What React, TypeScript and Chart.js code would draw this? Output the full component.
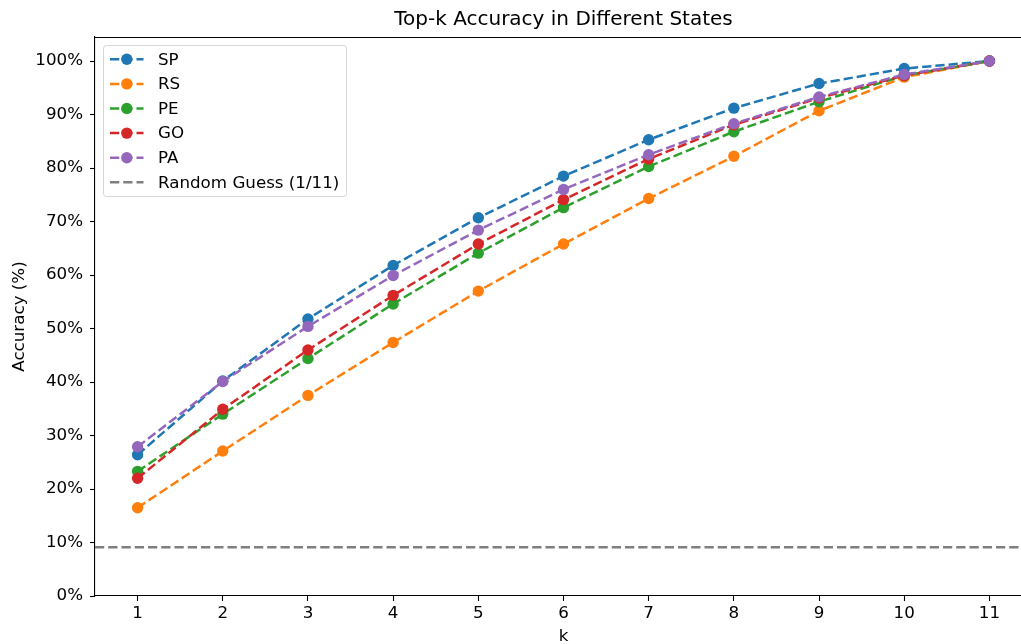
import { useEffect, useRef } from 'react';
import { Chart, registerables } from 'chart.js';

Chart.register(...registerables);

const kValues = [1, 2, 3, 4, 5, 6, 7, 8, 9, 10, 11];
const spValues = [26.4, 40.2, 51.8, 61.8, 70.7, 78.5, 85.3, 91.2, 95.8, 98.6, 100];
const rsValues = [16.5, 27.1, 37.5, 47.4, 57.0, 65.8, 74.3, 82.2, 90.7, 97.0, 100];
const peValues = [23.3, 34.0, 44.4, 54.6, 64.1, 72.6, 80.3, 86.8, 92.4, 97.3, 100];
const goValues = [22.0, 34.9, 46.0, 56.2, 65.8, 74.1, 81.7, 88.1, 93.1, 97.3, 100];
const paValues = [27.9, 40.1, 50.4, 59.9, 68.4, 76.0, 82.5, 88.3, 93.3, 97.5, 100];
const randomGuess = 100 / 11;

const seriesNames = ['SP', 'RS', 'PE', 'GO', 'PA'];
const seriesColors = ['#1f77b4', '#ff7f0e', '#2ca02c', '#d62728', '#9467bd'];
const randomLabel = 'Random Guess (1/11)';
const randomColor = '#7f7f7f';
const yTicks = [0, 10, 20, 30, 40, 50, 60, 70, 80, 90, 100];
const titleText = 'Top-k Accuracy in Different States';

const FONT = '"DejaVu Sans", sans-serif';
const DASH = [9.25, 4];
const LW = 2.5;
const PR = 5.7;

export default function App() {
  const ref = useRef<HTMLCanvasElement>(null);

  useEffect(() => {
    const canvas = ref.current;
    if (!canvas) return;
    const allSeries = [spValues, rsValues, peValues, goValues, paValues];

    const datasets: any[] = allSeries.map((vals, i) => ({
      label: seriesNames[i],
      data: kValues.map((k, j) => ({ x: k, y: vals[j] })),
      borderColor: seriesColors[i],
      backgroundColor: seriesColors[i],
      pointBackgroundColor: seriesColors[i],
      pointBorderWidth: 0,
      pointRadius: PR,
      borderWidth: LW,
      borderDash: DASH,
      tension: 0,
      order: 10 - i,
    }));
    datasets.push({
      label: randomLabel,
      data: [
        { x: 0.5, y: randomGuess },
        { x: 11.5, y: randomGuess },
      ],
      borderColor: randomColor,
      backgroundColor: randomColor,
      pointRadius: 0,
      borderWidth: LW,
      borderDash: DASH,
      order: 1,
    });

    const overlay = {
      id: 'overlay',
      afterDraw(chart: any) {
        const { ctx, chartArea } = chart;
        ctx.save();
        // top spine
        ctx.strokeStyle = '#000';
        ctx.lineWidth = 1.1;
        ctx.beginPath();
        ctx.moveTo(chartArea.left, chartArea.top + 0.5);
        ctx.lineTo(chartArea.right, chartArea.top + 0.5);
        ctx.stroke();
        // title
        ctx.fillStyle = '#000';
        ctx.font = `20px ${FONT}`;
        ctx.textAlign = 'center';
        ctx.textBaseline = 'middle';
        ctx.fillText(titleText, (chartArea.left + chartArea.right) / 2, 20);
        // legend
        const bx = 103.5, by = 45.5, bw = 243, bh = 151, r = 3;
        ctx.beginPath();
        ctx.moveTo(bx + r, by);
        ctx.lineTo(bx + bw - r, by);
        ctx.arcTo(bx + bw, by, bx + bw, by + r, r);
        ctx.lineTo(bx + bw, by + bh - r);
        ctx.arcTo(bx + bw, by + bh, bx + bw - r, by + bh, r);
        ctx.lineTo(bx + r, by + bh);
        ctx.arcTo(bx, by + bh, bx, by + bh - r, r);
        ctx.lineTo(bx, by + r);
        ctx.arcTo(bx, by, bx + r, by, r);
        ctx.closePath();
        ctx.fillStyle = 'rgba(255,255,255,0.8)';
        ctx.fill();
        ctx.strokeStyle = 'rgba(204,204,204,0.8)';
        ctx.lineWidth = 1;
        ctx.stroke();
        const labels = [...seriesNames, randomLabel];
        const colors = [...seriesColors, randomColor];
        ctx.font = `16.7px ${FONT}`;
        ctx.textAlign = 'left';
        labels.forEach((lab, i) => {
          const cy = 59.3 + i * 24.6;
          ctx.strokeStyle = colors[i];
          ctx.lineWidth = LW;
          ctx.setLineDash(DASH);
          ctx.beginPath();
          ctx.moveTo(110, cy);
          ctx.lineTo(143.5, cy);
          ctx.stroke();
          ctx.setLineDash([]);
          if (i < seriesNames.length) {
            ctx.fillStyle = colors[i];
            ctx.beginPath();
            ctx.arc(126.8, cy, PR, 0, Math.PI * 2);
            ctx.fill();
          }
          ctx.fillStyle = '#000';
          ctx.fillText(lab, 158, cy + 1);
        });
        ctx.restore();
      },
    };

    const chart = new Chart(canvas, {
      type: 'line',
      data: { datasets },
      plugins: [overlay],
      options: {
        animation: false,
        responsive: false,
        events: [],
        layout: { padding: { left: 0, top: 37, right: 18, bottom: 0 } },
        plugins: {
          legend: { display: false },
          title: { display: false },
          tooltip: { enabled: false },
        },
        scales: {
          x: {
            type: 'linear',
            min: 0.5,
            max: 11.5,
            afterBuildTicks: (scale: any) => {
              scale.ticks = kValues.map((v) => ({ value: v }));
            },
            afterFit: (scale: any) => {
              scale.height = 48;
            },
            ticks: {
              color: '#000',
              font: { family: FONT, size: 16.7 },
              padding: 3,
              maxRotation: 0,
              autoSkip: false,
              callback: (v: any) => String(v),
            },
            grid: {
              drawOnChartArea: false,
              tickLength: 5,
              tickColor: '#000',
              tickWidth: 1.1,
            },
            border: { display: true, color: '#000', width: 1.1 },
            title: {
              display: true,
              text: 'k',
              color: '#000',
              font: { family: FONT, size: 16.7 },
              padding: { top: 0, bottom: -3 },
            },
          },
          y: {
            type: 'linear',
            min: 0,
            max: 104.5,
            afterBuildTicks: (scale: any) => {
              scale.ticks = yTicks.map((v) => ({ value: v }));
            },
            afterFit: (scale: any) => {
              scale.width = 95;
            },
            ticks: {
              color: '#000',
              font: { family: FONT, size: 16.7 },
              padding: 7,
              callback: (v: any) => `${v}%`,
            },
            grid: {
              drawOnChartArea: false,
              tickLength: 5,
              tickColor: '#000',
              tickWidth: 1.1,
            },
            border: { display: true, color: '#000', width: 1.1 },
            title: {
              display: true,
              text: 'Accuracy (%)',
              color: '#000',
              font: { family: FONT, size: 16.7 },
              padding: { top: 10, bottom: 0 },
            },
          },
        },
      },
    } as any);
    return () => chart.destroy();
  }, []);

  return (
    <div
      style={{
        position: 'fixed',
        left: 0,
        top: 0,
        width: 1021,
        height: 644,
        overflow: 'hidden',
        background: '#fff',
      }}
    >
      <canvas ref={ref} width={1050} height={644} style={{ display: 'block' }} />
    </div>
  );
}
